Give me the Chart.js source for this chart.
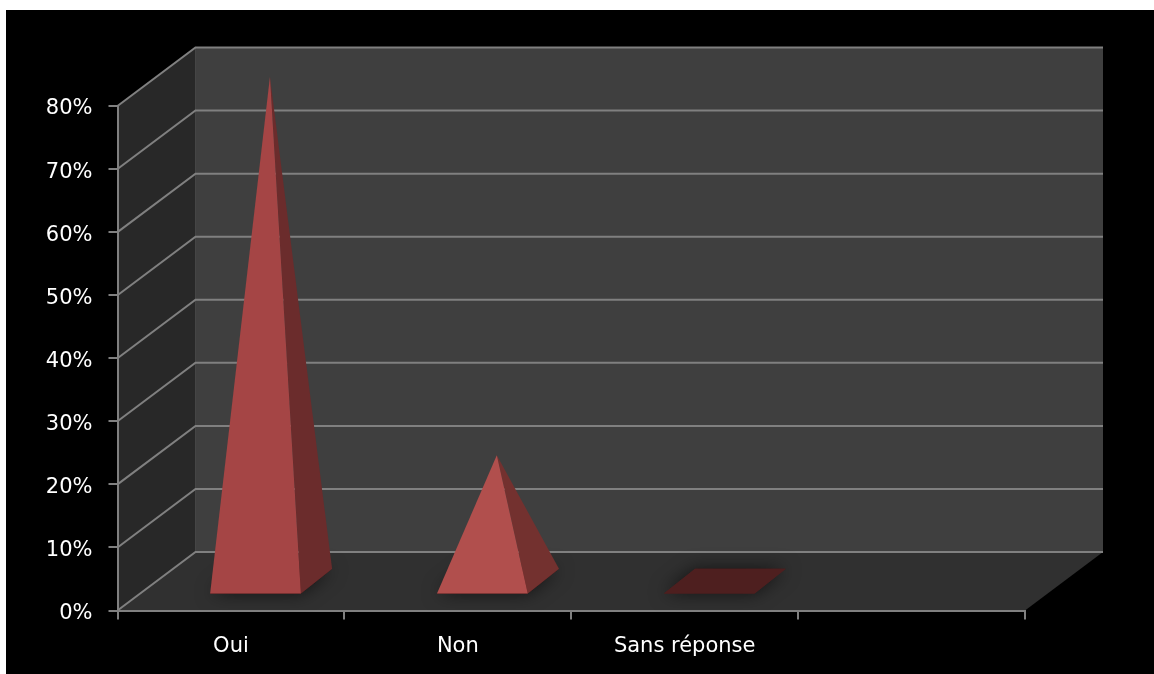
<!DOCTYPE html>
<html lang="fr">
<head>
    <meta charset="UTF-8">
    <title>Oui / Non / Sans réponse</title>
    <script src="https://cdn.jsdelivr.net/npm/chart.js"></script>
    <style>
        html, body { margin: 0; background: #fff; overflow: hidden; }
        canvas { position: absolute; left: 6px; top: 10px; background: #000; }
    </style>
</head>
<body>
    <canvas id="pyramids" width="1148" height="664"></canvas>

    <script>
        const categories = ['Oui', 'Non', 'Sans réponse', ''];
        const reponses = [80, 20, 0, null];
        const yTicksMax = 80;
        const yTicksStep = 10;

        const frontColors = ['#a54545', '#b14f4d', '#4e1f1f'];
        const sideColors = ['#6b2c2c', '#73312f', '#4e1f1f'];

        // depth of the fake 3d box, in pixels
        const depthX = 78;
        const depthY = 58.5;
        // where the pyramid base sits in the depth of the floor (0 = front, 1 = back)
        const baseFront = 0.29;
        const baseFrontX = 0.315;
        const baseBack = 0.715;

        const lineColor = '#808080';

        function poly(ctx, pts, fill) {
            ctx.beginPath();
            ctx.moveTo(pts[0][0], pts[0][1]);
            for (let i = 1; i < pts.length; i++) ctx.lineTo(pts[i][0], pts[i][1]);
            ctx.closePath();
            ctx.fillStyle = fill;
            ctx.fill();
        }

        const box3d = {
            id: 'box3d',
            beforeDraw(chart) {
                const { ctx, chartArea: a, scales: { y } } = chart;
                ctx.save();
                // back wall, side wall, floor
                poly(ctx, [[a.left + depthX, a.top - depthY], [a.right + depthX, a.top - depthY],
                    [a.right + depthX, a.bottom - depthY], [a.left + depthX, a.bottom - depthY]], '#3f3f3f');
                poly(ctx, [[a.left, a.top], [a.left + depthX, a.top - depthY],
                    [a.left + depthX, a.bottom - depthY], [a.left, a.bottom]], '#282828');
                poly(ctx, [[a.left, a.bottom], [a.left + depthX, a.bottom - depthY],
                    [a.right + depthX, a.bottom - depthY], [a.right, a.bottom]], '#303030');

                ctx.strokeStyle = '#454545';
                ctx.lineWidth = 1;
                ctx.beginPath();
                ctx.moveTo(a.left + depthX, a.top - depthY);
                ctx.lineTo(a.left + depthX, a.bottom - depthY);
                ctx.stroke();

                ctx.strokeStyle = lineColor;
                ctx.lineWidth = 2;
                y.ticks.forEach(t => {
                    const py = y.getPixelForValue(t.value);
                    ctx.beginPath();
                    ctx.moveTo(a.left, py);
                    ctx.lineTo(a.left + depthX, py - depthY);
                    ctx.lineTo(a.right + depthX, py - depthY);
                    ctx.stroke();
                });
                ctx.restore();
            },
            afterDatasetsDraw(chart) {
                const { ctx, scales: { y } } = chart;
                const meta = chart.getDatasetMeta(0);
                const base = y.getPixelForValue(0);
                ctx.save();
                meta.data.forEach((bar, i) => {
                    if (reponses[i] === null) return;
                    const half = bar.width / 2;
                    const fx = bar.x + depthX * baseFrontX, fy = base - depthY * baseFront;
                    const bx = bar.x + depthX * baseBack, by = base - depthY * baseBack;
                    const tip = [bar.x + depthX * 0.5, bar.y - depthY * 0.5];
                    const floor = [[fx - half, fy], [fx + half, fy], [bx + half, by], [bx - half, by]];

                    // floor shadow, then the base itself
                    ctx.save();
                    ctx.shadowColor = 'rgba(0,0,0,0.6)';
                    ctx.shadowBlur = 18;
                    poly(ctx, floor, frontColors[2]);
                    ctx.restore();
                    poly(ctx, floor, frontColors[2]);

                    if (reponses[i] > 0) {
                        poly(ctx, [[fx + half, fy], [bx + half, by], tip], sideColors[i]);
                        poly(ctx, [[fx - half, fy], [fx + half, fy], tip], frontColors[i]);
                    }
                });
                ctx.restore();
            }
        };

        new Chart(document.getElementById('pyramids'), {
            type: 'bar',
            plugins: [box3d],
            data: {
                labels: categories,
                datasets: [{
                    label: 'Réponses',
                    data: reponses,
                    backgroundColor: 'transparent',
                    categoryPercentage: 1,
                    barPercentage: 0.4
                }]
            },
            options: {
                responsive: false,
                animation: false,
                layout: { padding: { top: 96, right: 129, left: 0, bottom: 0 } },
                plugins: { legend: { display: false }, tooltip: { enabled: false } },
                scales: {
                    x: {
                        afterFit(scale) { scale.height = 63.5; },
                        border: { color: lineColor, width: 2 },
                        grid: { color: lineColor, lineWidth: 2, drawOnChartArea: false, tickLength: 9 },
                        ticks: { color: '#fff', padding: 14, maxRotation: 0, font: { family: 'DejaVu Sans', size: 21 } }
                    },
                    y: {
                        min: 0,
                        max: yTicksMax,
                        afterFit(scale) { scale.width = 111.5; },
                        border: { color: lineColor, width: 2 },
                        grid: { color: lineColor, lineWidth: 2, drawOnChartArea: false, tickLength: 9 },
                        ticks: {
                            color: '#fff',
                            padding: 16,
                            stepSize: yTicksStep,
                            labelOffset: 3,
                            font: { family: 'DejaVu Sans', size: 21 },
                            callback: v => v + '%'
                        }
                    }
                }
            }
        });
    </script>
</body>
</html>
